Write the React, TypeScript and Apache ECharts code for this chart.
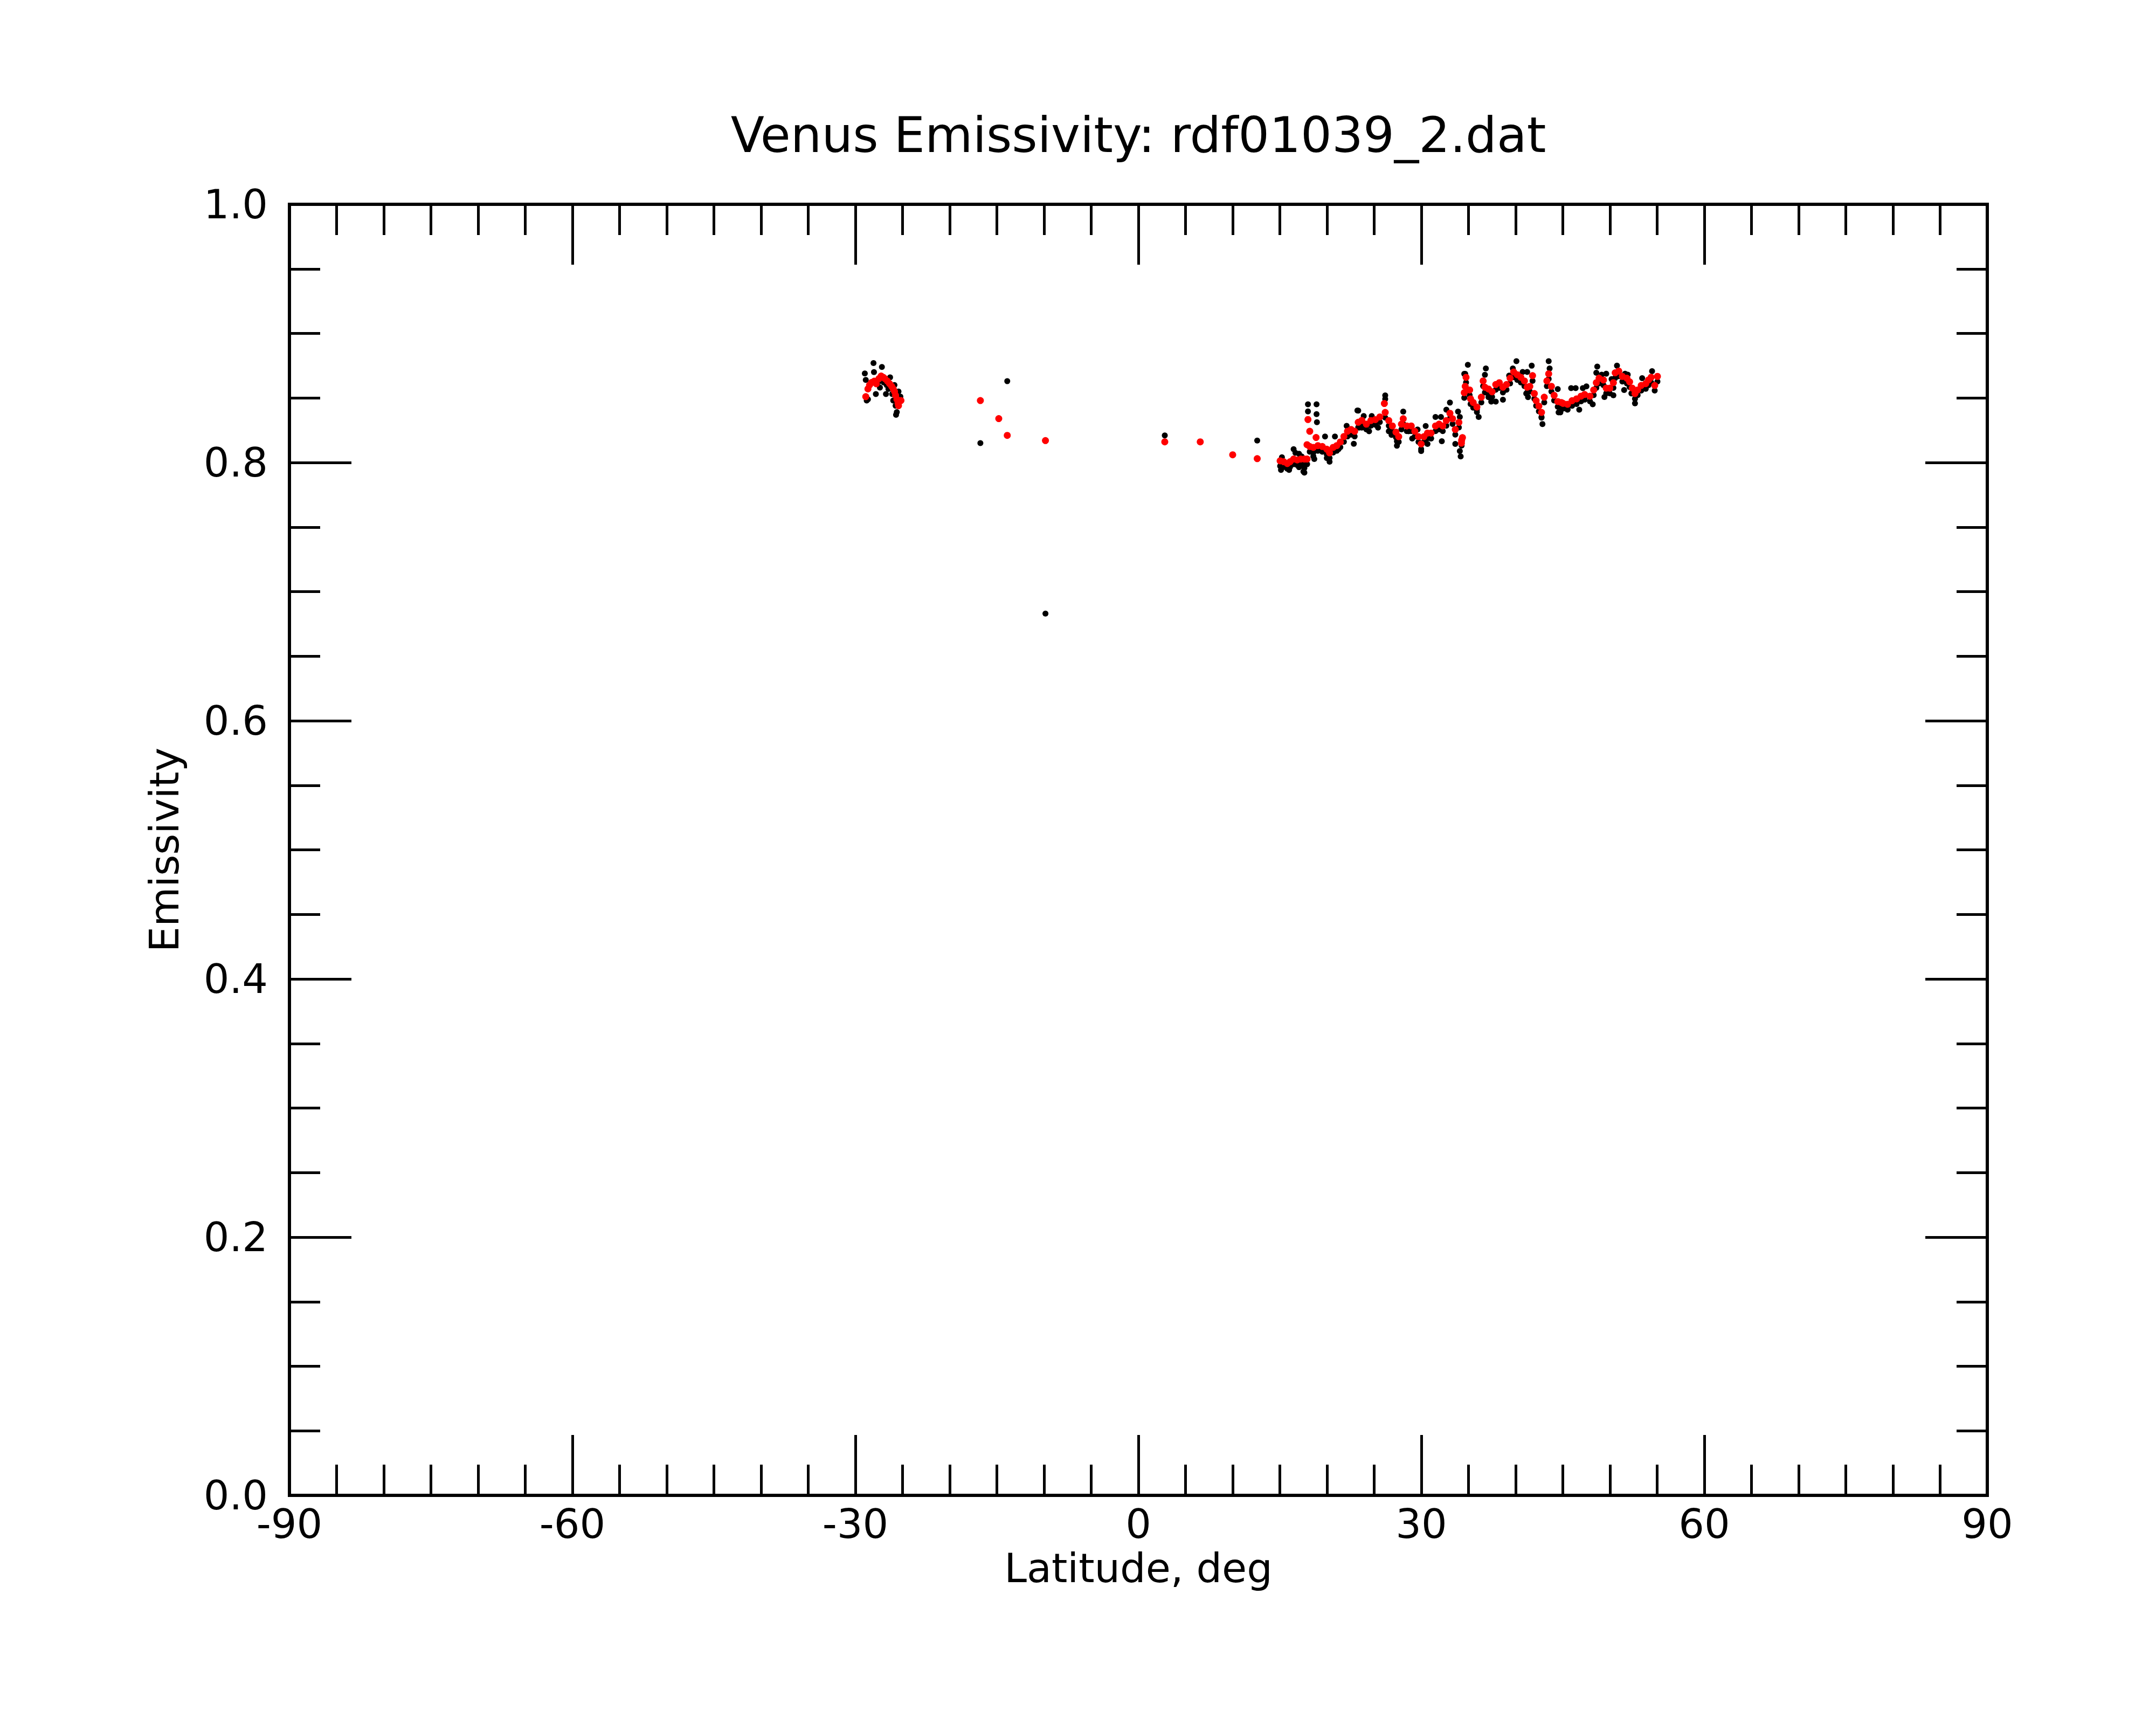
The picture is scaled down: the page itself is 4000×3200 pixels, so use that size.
import React, { useEffect, useRef } from "react";
import * as echarts from "echarts";

const FONT = "DejaVu Sans";
const TITLE = "Venus Emissivity: rdf01039_2.dat";
const X_NAME = "Latitude, deg";
const Y_NAME = "Emissivity";
const X_TICKS = [-90, -60, -30, 0, 30, 60, 90];
const Y_TICKS = [0.0, 0.2, 0.4, 0.6, 0.8, 1.0];

// Black (raw) points, [latitude, emissivity]
const blackSouth: number[][] = [
  [-29.0, 0.869], [-28.9, 0.864], [-28.8, 0.848], [-28.67, 0.849], [-28.08, 0.877],
  [-28.03, 0.870], [-27.83, 0.853], [-27.6, 0.862], [-27.4, 0.858], [-27.19, 0.874],
  [-27.0, 0.862], [-26.76, 0.853], [-26.68, 0.860], [-26.5, 0.857], [-26.32, 0.866],
  [-26.1, 0.853], [-25.99, 0.848], [-25.86, 0.860], [-25.74, 0.844], [-25.69, 0.837],
  [-25.61, 0.839], [-25.43, 0.855], [-25.23, 0.851],
];
const blackMid: number[][] = [
  [-16.75, 0.815], [-13.9, 0.863], [-9.85, 0.683], [2.8, 0.821], [12.6, 0.817],
];
const blackNorthBand: number[][] = [
  [15.03, 0.7973], [15.41, 0.7966], [15.79, 0.7952], [16.08, 0.7966], [16.46, 0.7987],
  [16.84, 0.798], [17.22, 0.7987], [17.6, 0.7987], [17.89, 0.7987], [18.17, 0.8084],
  [18.55, 0.8077], [19.03, 0.8091], [19.5, 0.8084], [19.98, 0.8063], [20.27, 0.8035],
  [20.65, 0.8077], [21.03, 0.8091], [21.41, 0.8119], [21.79, 0.8161], [22.17, 0.8202],
  [22.55, 0.8216], [22.93, 0.8202], [23.31, 0.8272], [23.69, 0.8286], [24.17, 0.8257],
  [24.65, 0.8285], [25.12, 0.8292], [25.6, 0.8313], [26.17, 0.8348], [26.55, 0.8285],
  [26.93, 0.8243], [27.31, 0.8195], [27.6, 0.816], [27.89, 0.8257], [28.08, 0.8299],
  [28.46, 0.8243], [28.93, 0.8243], [29.31, 0.8202], [29.7, 0.816], [29.98, 0.8104],
  [30.27, 0.816], [30.65, 0.8188], [31.03, 0.8188], [31.5, 0.8243], [31.88, 0.8257],
  [32.27, 0.8243], [32.65, 0.8285], [33.03, 0.8341], [33.31, 0.8299], [33.6, 0.8216],
  [33.98, 0.8271], [34.27, 0.8132], [34.55, 0.8501], [34.74, 0.862], [35.12, 0.8522],
  [35.22, 0.8453], [35.5, 0.8425], [35.89, 0.839], [36.36, 0.8466], [36.55, 0.8592],
  [36.74, 0.8543], [37.12, 0.8529], [37.5, 0.8508], [37.89, 0.8564], [38.27, 0.8578],
  [38.65, 0.8543], [39.03, 0.8564], [39.41, 0.8613], [39.79, 0.8661], [40.17, 0.864],
  [40.55, 0.862], [40.93, 0.8592], [41.22, 0.8543], [41.5, 0.855], [41.79, 0.8633],
  [41.98, 0.8494], [42.17, 0.8439], [42.46, 0.8397], [42.74, 0.8348], [43.03, 0.8466],
  [43.31, 0.8592], [43.5, 0.8647], [43.79, 0.855], [44.08, 0.848], [44.46, 0.8432],
  [44.84, 0.8425], [45.03, 0.8418], [45.5, 0.8411], [45.98, 0.8439], [46.46, 0.8453],
  [46.93, 0.8474], [47.31, 0.8487], [47.88, 0.8474], [48.27, 0.8522], [48.55, 0.8578],
  [48.84, 0.8613], [49.31, 0.8599], [49.6, 0.8536], [49.98, 0.8536], [50.36, 0.8578],
  [50.55, 0.8655], [50.93, 0.8668], [51.31, 0.8627], [51.79, 0.8613], [52.08, 0.8585],
  [52.36, 0.8536], [52.65, 0.8494], [52.93, 0.8522], [53.31, 0.8557], [53.79, 0.8571],
  [54.08, 0.8599], [54.36, 0.862], [54.74, 0.8557], [55.03, 0.8627],
];
const blackNorthOutliers: number[][] = [
  [15.22, 0.8041], [15.12, 0.7943], [15.6, 0.7978], [15.98, 0.7943], [16.46, 0.8103],
  [16.65, 0.8075], [17.03, 0.8068], [17.03, 0.7964], [17.31, 0.8047], [17.5, 0.793],
  [17.6, 0.7957], [17.6, 0.7922], [17.98, 0.8451], [17.98, 0.8396], [18.89, 0.8451],
  [18.89, 0.8375], [18.93, 0.8312], [18.55, 0.8048], [18.65, 0.8027], [19.79, 0.8201],
  [19.98, 0.8034], [20.27, 0.8006], [20.84, 0.8201], [21.22, 0.8103], [22.08, 0.8284],
  [22.84, 0.8145], [23.22, 0.8403], [23.41, 0.827], [23.69, 0.827], [23.31, 0.8402],
  [23.89, 0.836], [24.46, 0.8242], [24.74, 0.836], [25.41, 0.827], [26.17, 0.852],
  [26.17, 0.8492], [26.55, 0.8242], [26.84, 0.8214], [27.41, 0.8165], [27.41, 0.813],
  [28.08, 0.8395], [28.65, 0.8242], [29.03, 0.8186], [29.6, 0.8256], [29.98, 0.8089],
  [30.46, 0.8283], [30.65, 0.8144], [31.03, 0.8186], [31.5, 0.8353], [32.08, 0.8353],
  [32.17, 0.8165], [32.65, 0.8409], [33.03, 0.8464], [33.89, 0.8395], [34.08, 0.8353],
  [34.08, 0.8089], [34.17, 0.8047], [33.6, 0.8144], [34.55, 0.8687], [34.93, 0.8757],
  [34.65, 0.8687], [36.84, 0.8729], [36.74, 0.868], [37.12, 0.8506], [37.41, 0.8472],
  [37.89, 0.8472], [38.65, 0.8486], [39.31, 0.8673], [40.08, 0.8785], [39.7, 0.8729],
  [40.74, 0.8701], [41.22, 0.8701], [41.7, 0.875], [41.31, 0.8506], [41.12, 0.8534],
  [36.08, 0.8353], [35.89, 0.8409], [43.5, 0.8785], [43.6, 0.8729], [42.84, 0.8298],
  [42.74, 0.8353], [44.46, 0.8569], [44.55, 0.8388], [44.74, 0.8388], [45.5, 0.8409],
  [45.88, 0.8576], [46.36, 0.8576], [46.74, 0.8409], [47.12, 0.8576], [47.5, 0.859],
  [48.17, 0.8451], [48.65, 0.8743], [48.55, 0.8695], [49.12, 0.8681], [49.6, 0.8688],
  [49.41, 0.8507], [50.17, 0.8646], [50.36, 0.8521], [50.74, 0.875], [51.6, 0.8688],
  [51.5, 0.8562], [51.88, 0.8681], [52.65, 0.8458], [52.27, 0.8535], [53.41, 0.8653],
  [53.79, 0.8583], [54.46, 0.8708], [54.36, 0.8618],
];

// Red (smoothed) points, [latitude, emissivity]
const redSouth: number[][] = [
  [-28.9, 0.851], [-28.67, 0.857], [-28.5, 0.86], [-28.29, 0.862], [-28.0, 0.863],
  [-27.78, 0.861], [-27.5, 0.865], [-27.27, 0.867], [-27.05, 0.866], [-26.88, 0.865],
  [-26.6, 0.863], [-26.37, 0.861], [-26.15, 0.859], [-25.99, 0.857], [-25.85, 0.855],
  [-25.74, 0.852], [-25.6, 0.849], [-25.48, 0.846], [-25.43, 0.844], [-25.17, 0.848],
];
const redMid: number[][] = [
  [-16.75, 0.848], [-14.8, 0.834], [-13.9, 0.821], [-9.85, 0.817], [2.8, 0.816],
  [6.56, 0.816], [10.0, 0.806], [12.6, 0.803],
];
const redNorth: number[][] = [
  [15.03, 0.8013], [15.41, 0.8006], [15.79, 0.7992], [16.08, 0.8006], [16.46, 0.8027],
  [16.84, 0.802], [17.22, 0.8027], [17.6, 0.8027], [17.89, 0.8027], [17.88, 0.8138],
  [17.98, 0.8333], [18.17, 0.8242], [18.84, 0.8194], [18.17, 0.8124], [18.55, 0.8117],
  [19.03, 0.8131], [19.5, 0.8124], [19.98, 0.8103], [20.27, 0.8075], [20.65, 0.8117],
  [21.03, 0.8131], [21.41, 0.8159], [21.79, 0.8201], [22.17, 0.8242], [22.55, 0.8256],
  [22.93, 0.8242], [23.31, 0.8312], [23.69, 0.8326], [24.17, 0.8297], [24.65, 0.8325],
  [25.12, 0.8332], [25.6, 0.8353], [26.08, 0.8457], [26.17, 0.8388], [26.55, 0.8325],
  [26.93, 0.8283], [27.31, 0.8235], [27.6, 0.82], [27.89, 0.8297], [28.08, 0.8339],
  [28.46, 0.8283], [28.93, 0.8283], [29.31, 0.8242], [29.7, 0.82], [29.98, 0.8144],
  [30.27, 0.82], [30.65, 0.8228], [31.03, 0.8228], [31.5, 0.8283], [31.88, 0.8297],
  [32.27, 0.8283], [32.65, 0.8325], [33.03, 0.8381], [33.31, 0.8339], [33.6, 0.8256],
  [33.98, 0.8311], [34.25, 0.815], [34.36, 0.8193], [34.27, 0.8172], [34.55, 0.8541],
  [34.65, 0.859], [34.74, 0.866], [35.12, 0.8562], [35.22, 0.8493], [35.5, 0.8465],
  [35.89, 0.843], [36.36, 0.8506], [36.55, 0.8632], [36.74, 0.8583], [37.12, 0.8569],
  [37.5, 0.8548], [37.89, 0.8604], [38.27, 0.8618], [38.65, 0.8583], [39.03, 0.8604],
  [39.41, 0.8653], [39.79, 0.8701], [40.17, 0.868], [40.55, 0.866], [40.93, 0.8632],
  [41.22, 0.8583], [41.5, 0.859], [41.79, 0.8673], [41.98, 0.8534], [42.17, 0.8479],
  [42.46, 0.8437], [42.74, 0.8388], [43.03, 0.8506], [43.31, 0.8632], [43.5, 0.8687],
  [43.79, 0.859], [44.08, 0.852], [44.46, 0.8472], [44.84, 0.8465], [45.03, 0.8458],
  [45.5, 0.8451], [45.98, 0.8479], [46.46, 0.8493], [46.93, 0.8514], [47.31, 0.8527],
  [47.88, 0.8514], [48.27, 0.8562], [48.55, 0.8618], [48.84, 0.8653], [49.31, 0.8639],
  [49.6, 0.8576], [49.98, 0.8576], [50.36, 0.8618], [50.55, 0.8695], [50.93, 0.8708],
  [51.31, 0.8667], [51.79, 0.8653], [52.08, 0.8625], [52.36, 0.8576], [52.65, 0.8534],
  [52.93, 0.8562], [53.31, 0.8597], [53.79, 0.8611], [54.08, 0.8639], [54.36, 0.866],
  [54.74, 0.8597], [55.03, 0.8667],
];

const blackData = [...blackSouth, ...blackMid, ...blackNorthBand, ...blackNorthOutliers];
const redData = [...redSouth, ...redMid, ...redNorth];

function xAxisCfg(pos: "bottom" | "top", labels: boolean) {
  return {
    type: "value",
    position: pos,
    min: X_TICKS[0],
    max: X_TICKS[X_TICKS.length - 1],
    interval: 30,
    axisLine: { show: true, onZero: false, lineStyle: { color: "#000", width: 6, cap: "square" } },
    axisTick: { show: true, inside: true, length: 112, lineStyle: { color: "#000", width: 5 } },
    minorTick: { show: true, splitNumber: 6, length: 57, lineStyle: { color: "#000", width: 5 } },
    splitLine: { show: false },
    minorSplitLine: { show: false },
    axisLabel: {
      show: labels,
      fontSize: 75,
      fontFamily: FONT,
      color: "#000",
      margin: 15,
      showMinLabel: true,
      showMaxLabel: true,
    },
    name: labels ? X_NAME : "",
    nameLocation: "middle",
    nameGap: 97,
    nameTextStyle: { fontSize: 75, fontFamily: FONT, color: "#000" },
  };
}

function yAxisCfg(pos: "left" | "right", labels: boolean) {
  return {
    type: "value",
    position: pos,
    min: Y_TICKS[0],
    max: Y_TICKS[Y_TICKS.length - 1],
    interval: 0.2,
    axisLine: { show: true, onZero: false, lineStyle: { color: "#000", width: 6, cap: "square" } },
    axisTick: { show: true, inside: true, length: 115, lineStyle: { color: "#000", width: 5 } },
    minorTick: { show: true, splitNumber: 4, length: 57, lineStyle: { color: "#000", width: 5 } },
    splitLine: { show: false },
    minorSplitLine: { show: false },
    axisLabel: {
      show: labels,
      fontSize: 75,
      fontFamily: FONT,
      color: "#000",
      margin: 40,
      showMinLabel: true,
      showMaxLabel: true,
      formatter: (v: number) => v.toFixed(1),
    },
    name: labels ? Y_NAME : "",
    nameLocation: "middle",
    nameGap: 195,
    nameTextStyle: { fontSize: 75, fontFamily: FONT, color: "#000" },
  };
}

export default function App() {
  const ref = useRef<HTMLDivElement>(null);
  useEffect(() => {
    if (!ref.current) return;
    const chart = echarts.init(ref.current, undefined, { renderer: "svg" });
    chart.setOption({
      animation: false,
      backgroundColor: "#fff",
      grid: { left: 537, top: 379, width: 3150, height: 2395, containLabel: false },
      graphic: [
        {
          type: "text",
          x: 2112,
          y: 250,
          style: {
            text: TITLE,
            fontSize: 91,
            fontFamily: FONT,
            fill: "#000",
            align: "center",
            verticalAlign: "middle",
          },
        },
      ],
      xAxis: [xAxisCfg("bottom", true), xAxisCfg("top", false)],
      yAxis: [yAxisCfg("left", true), yAxisCfg("right", false)],
      series: [
        {
          type: "scatter",
          xAxisIndex: 0,
          yAxisIndex: 0,
          data: blackData,
          symbol: "circle",
          symbolSize: 11,
          itemStyle: { color: "#000", opacity: 1 },
          silent: true,
          z: 2,
        },
        {
          type: "scatter",
          xAxisIndex: 0,
          yAxisIndex: 0,
          data: redData,
          symbol: "circle",
          symbolSize: 13,
          itemStyle: { color: "#ff0000", opacity: 1 },
          silent: true,
          z: 3,
        },
      ],
    });
    return () => chart.dispose();
  }, []);
  return (
    <div
      ref={ref}
      style={{ position: "absolute", left: 0, top: 0, width: 4000, height: 3200, background: "#fff" }}
    />
  );
}
